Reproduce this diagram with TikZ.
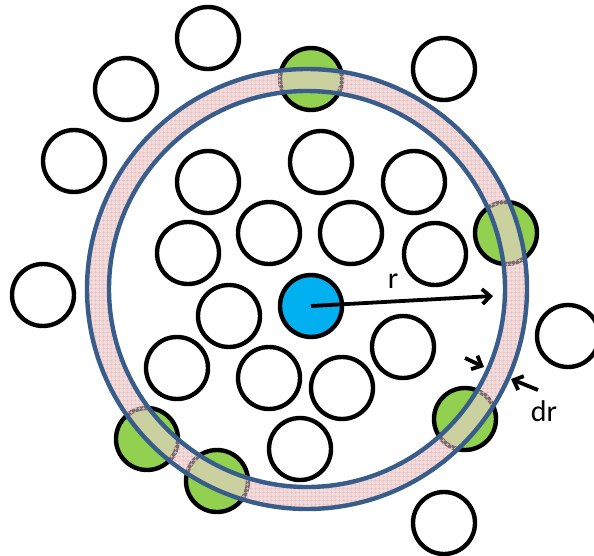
\documentclass[tikz,border=0pt]{standalone}
\usepackage{fontspec}
\setmainfont{Carlito}
\usetikzlibrary{arrows.meta,patterns.meta}
\definecolor{ringline}{RGB}{56,93,138}
\definecolor{ringfill}{RGB}{242,220,219}
\definecolor{ringgrid}{RGB}{232,190,192}
\definecolor{shellgreen}{RGB}{146,208,80}
\definecolor{coreblue}{RGB}{0,176,240}
\begin{document}
\begin{tikzpicture}[x=1pt, y=-1pt, font=\fontsize{30}{34}\selectfont,
  atom/.style={circle, draw=black, line width=4.4pt, minimum size=62pt, inner sep=0pt, fill=white},
  shell/.style={even odd rule, insert path={(C) circle[radius=220] (C) circle[radius=198]}},
  tip/.style={-{Straight Barb[length=8pt, width=15pt]}, line width=3.8pt}]
\useasboundingbox (0,0) rectangle (594,556);
\coordinate (C) at (307,289);
% shell of width dr
\fill[ringfill, shell];
% atoms cut by the shell
\foreach \x/\y [count=\i] in {311/79, 506/233, 465/419, 147/439, 217/481}
  \node[atom, fill=shellgreen] (g\i) at (\x,\y) {};
\fill[ringfill, fill opacity=0.5, shell];
\path[pattern={Hatch[distance=4pt, line width=0.5pt]}, pattern color=ringgrid, shell];
\draw[ringline, line width=4.4pt] (C) circle[radius=220] (C) circle[radius=198];
% other atoms
\foreach \x/\y [count=\i] in {208/38, 126/89, 444/69, 74/161, 208/182, 321/162, 414/182, 269/233, 351/233, 188/253,
  435/254, 43/295, 229/316, 568/336, 403/347, 177/368, 269/378, 342/388, 300/449, 444/523}
  \node[atom] (a\i) at (\x,\y) {};
\node[atom, fill=coreblue] (ref) at (311,306) {};
% radius and shell width
\coordinate (rend) at (493,296);
\draw[tip] (ref.center) -- (rend);
\node (rlab) at (393,281) {r};
\coordinate (in0) at (465,358); \coordinate (in1) at (484,367);
\coordinate (out0) at (538,390); \coordinate (out1) at (511,379);
\draw[tip] (in0) -- (in1);
\draw[tip] (out0) -- (out1);
\node (drlab) at (544,411) {dr};
\end{tikzpicture}
\end{document}
